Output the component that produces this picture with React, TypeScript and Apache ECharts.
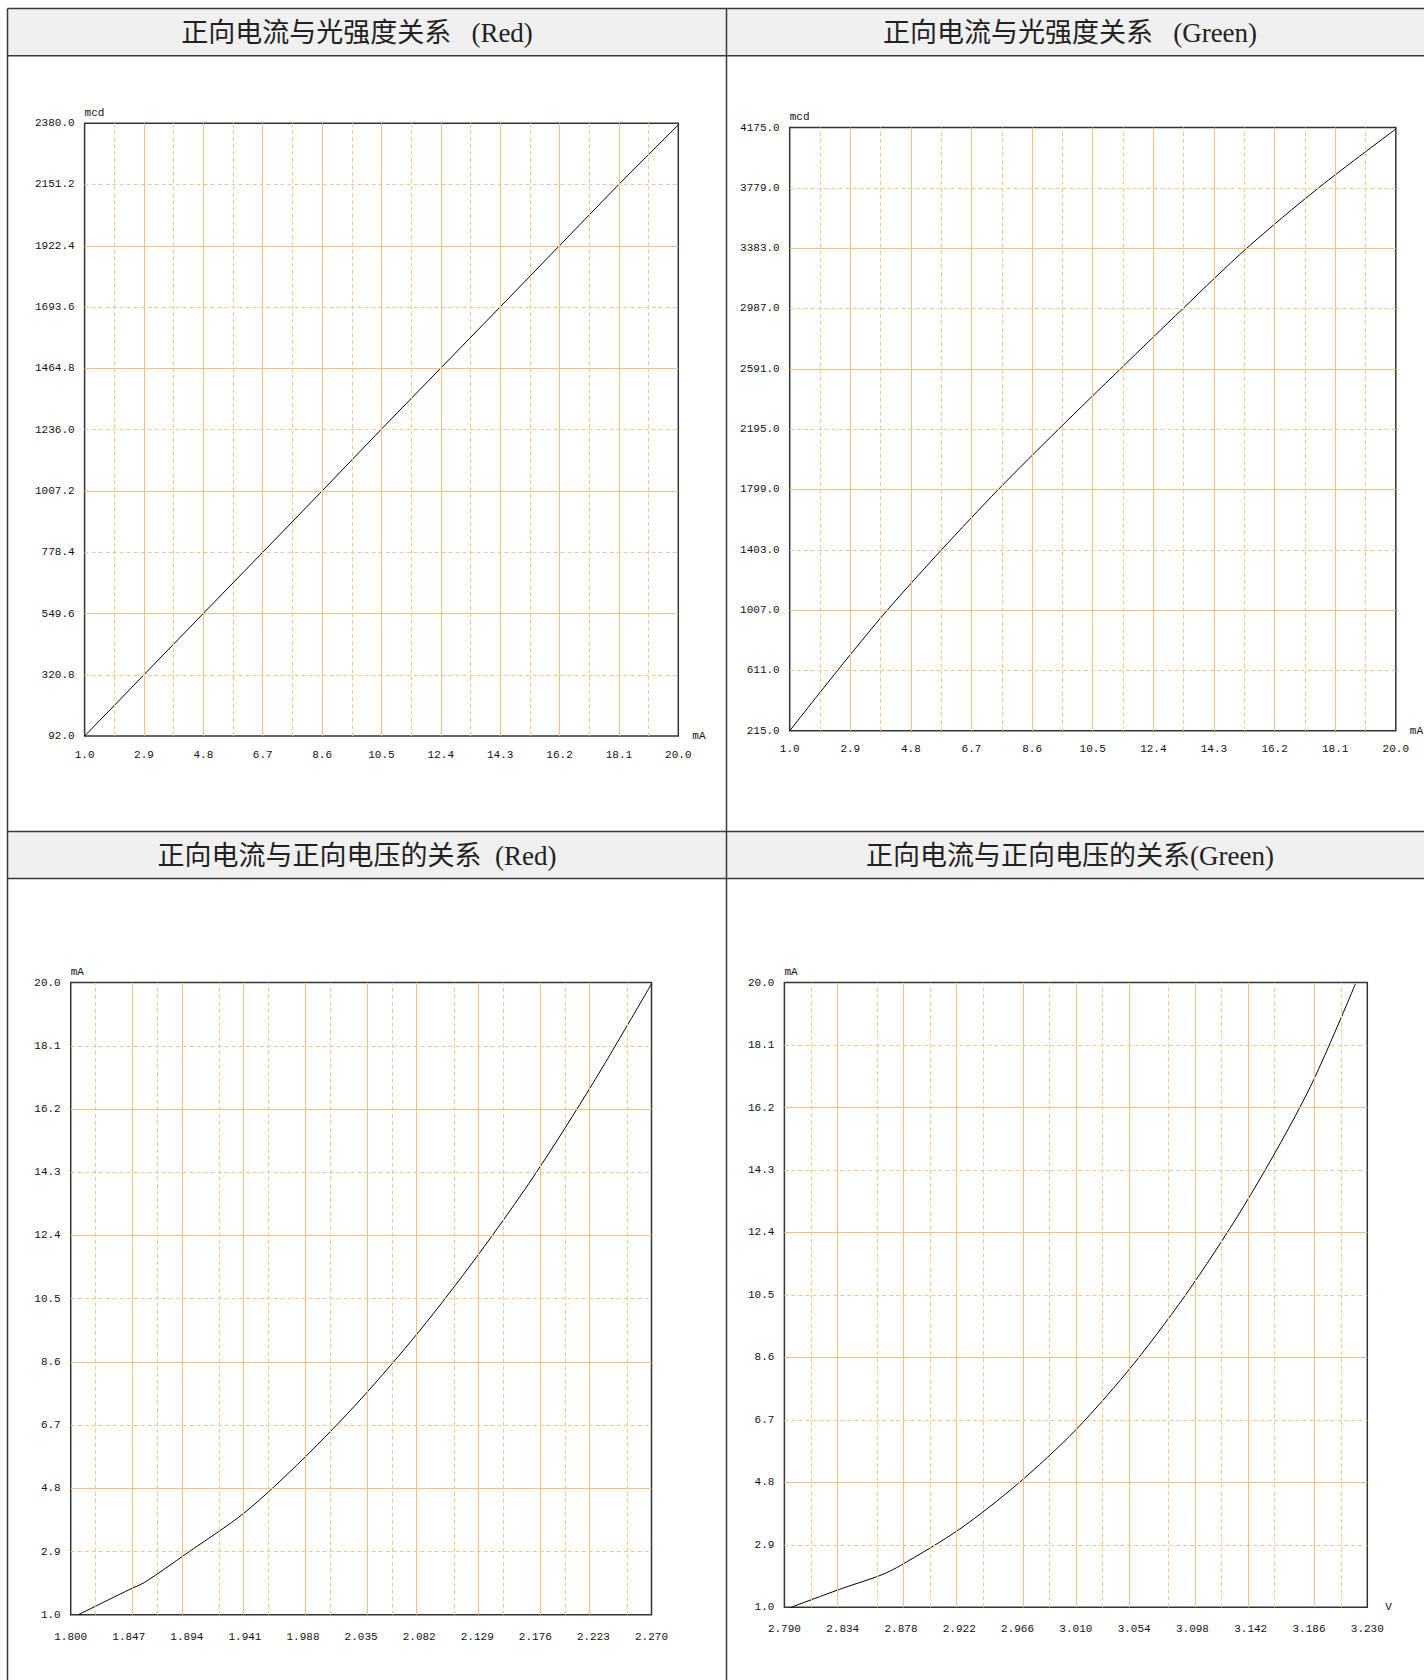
import React, { useEffect, useRef } from "react";
import * as echarts from "echarts";

// ---------- Chart 1: 正向电流与光强度关系 (Red) ----------
const redIvTitle = "正向电流与光强度关系\u2002 (Red)";
const redIvCurrent = [1.0, 2.9, 4.8, 6.7, 8.6, 10.5, 12.4, 14.3, 16.2, 18.1, 20.0];
const redIvIntensity = [92, 321, 550, 778, 1007, 1238, 1466, 1694, 1923, 2152, 2374];
const redIvXTicks = [1.0, 2.9, 4.8, 6.7, 8.6, 10.5, 12.4, 14.3, 16.2, 18.1, 20.0];
const redIvYTicks = [92.0, 320.8, 549.6, 778.4, 1007.2, 1236.0, 1464.8, 1693.6, 1922.4, 2151.2, 2380.0];

// ---------- Chart 2: 正向电流与光强度关系 (Green) ----------
const greenIvTitle = "正向电流与光强度关系\u2002 (Green)";
const greenIvCurrent = [1.0, 2.5, 4.06, 5.76, 7.54, 9.43, 11.37, 13.33, 15.33, 17.58, 20.0];
const greenIvIntensity = [215, 611, 1007, 1403, 1799, 2195, 2591, 2987, 3383, 3779, 4165];
const greenIvXTicks = [1.0, 2.9, 4.8, 6.7, 8.6, 10.5, 12.4, 14.3, 16.2, 18.1, 20.0];
const greenIvYTicks = [215.0, 611.0, 1007.0, 1403.0, 1799.0, 2195.0, 2591.0, 2987.0, 3383.0, 3779.0, 4175.0];

// ---------- Chart 3: 正向电流与正向电压的关系 (Red) ----------
const redVfTitle = "正向电流与正向电压的关系\u2002(Red)";
const redVfVoltage = [1.806, 1.847, 1.860, 1.894, 1.941, 1.988, 2.035, 2.082, 2.129, 2.176, 2.223, 2.270];
const redVfCurrent = [1.0, 1.75, 1.98, 2.85, 4.08, 5.68, 7.49, 9.52, 11.78, 14.25, 17.0, 19.96];
const redVfXTicks = [1.800, 1.847, 1.894, 1.941, 1.988, 2.035, 2.082, 2.129, 2.176, 2.223, 2.270];
const redVfYTicks = [1.0, 2.9, 4.8, 6.7, 8.6, 10.5, 12.4, 14.3, 16.2, 18.1, 20.0];

// ---------- Chart 4: 正向电流与正向电压的关系(Green) ----------
const greenVfTitle = "正向电流与正向电压的关系(Green)";
const greenVfVoltage = [2.795, 2.834, 2.863, 2.878, 2.922, 2.966, 3.010, 3.054, 3.098, 3.142, 3.186, 3.221];
const greenVfCurrent = [1.0, 1.58, 1.98, 2.28, 3.37, 4.75, 6.4, 8.42, 10.8, 13.55, 16.75, 19.96];
const greenVfXTicks = [2.790, 2.834, 2.878, 2.922, 2.966, 3.010, 3.054, 3.098, 3.142, 3.186, 3.230];
const greenVfYTicks = [1.0, 2.9, 4.8, 6.7, 8.6, 10.5, 12.4, 14.3, 16.2, 18.1, 20.0];

const MONO = '"Liberation Mono", "DejaVu Sans Mono", monospace';
const TITLE_FONT = '"Liberation Serif", "Noto Sans CJK SC", serif';
const LABEL_COLOR = "#111";
const GRID_SOLID = "#f4c07a";
const GRID_DASH = "#f5c88a";
const BORDER = "#3a3a3a";

type Panel = {
  grid: { left: number; top: number; width: number; height: number };
  xs: number[];
  ys: number[];
  xTicks: number[];
  yTicks: number[];
  xDec: number;
  yDec: number;
  xName: string;
  yName: string;
  xNameGap: number;
  xLabelMargin: number;
  smooth: number | boolean;
};

const panels: Panel[] = [
  {
    grid: { left: 84.6, top: 123.2, width: 593.7, height: 612.9 },
    xs: redIvCurrent, ys: redIvIntensity, xTicks: redIvXTicks, yTicks: redIvYTicks,
    xDec: 1, yDec: 1, xName: "mA", yName: "mcd", xNameGap: 14, xLabelMargin: 13, smooth: false,
  },
  {
    grid: { left: 789.7, top: 127.5, width: 608.6, height: 603.3 },
    xs: greenIvCurrent, ys: greenIvIntensity, xTicks: greenIvXTicks, yTicks: greenIvYTicks,
    xDec: 1, yDec: 1, xName: "mA", yName: "mcd", xNameGap: 14, xLabelMargin: 13, smooth: 0.3,
  },
  {
    grid: { left: 70.7, top: 982.6, width: 580.8, height: 632.2 },
    xs: redVfVoltage, ys: redVfCurrent, xTicks: redVfXTicks, yTicks: redVfYTicks,
    xDec: 3, yDec: 1, xName: "", yName: "mA", xNameGap: 14, xLabelMargin: 17, smooth: 0.3,
  },
  {
    grid: { left: 784.4, top: 982.6, width: 582.9, height: 624.7 },
    xs: greenVfVoltage, ys: greenVfCurrent, xTicks: greenVfXTicks, yTicks: greenVfYTicks,
    xDec: 3, yDec: 1, xName: "V", yName: "mA", xNameGap: 18, xLabelMargin: 16, smooth: 0.3,
  },
];

const solidStyle = { color: GRID_SOLID, width: 1, type: "solid" as const };
const dashStyle = { color: GRID_DASH, width: 1, type: [4, 3] as any };

function gridLineData(xTicks: number[], yTicks: number[]) {
  const out: any[] = [];
  xTicks.slice(1, -1).forEach((v) => out.push({ xAxis: v, lineStyle: solidStyle }));
  for (let i = 0; i < xTicks.length - 1; i++) {
    out.push({ xAxis: (xTicks[i] + xTicks[i + 1]) / 2, lineStyle: dashStyle });
  }
  yTicks.slice(1, -1).forEach((v, i) =>
    out.push({ yAxis: v, lineStyle: (i + 1) % 2 === 0 ? solidStyle : dashStyle })
  );
  return out;
}

function buildOption() {
  const grids: any[] = [];
  const xAxes: any[] = [];
  const yAxes: any[] = [];
  const series: any[] = [];

  panels.forEach((p, i) => {
    grids.push({
      ...p.grid,
      show: true,
      borderColor: "#333",
      borderWidth: 1.5,
      backgroundColor: "transparent",
      containLabel: false,
    });
    xAxes.push({
      type: "value",
      gridIndex: i,
      min: p.xTicks[0],
      max: p.xTicks[p.xTicks.length - 1],
      axisLine: { show: false },
      axisTick: { show: false },
      splitLine: { show: false },
      axisLabel: {
        customValues: p.xTicks,
        formatter: (v: number) => v.toFixed(p.xDec),
        margin: p.xLabelMargin,
        color: LABEL_COLOR,
        fontFamily: MONO,
        fontSize: 11,
        showMinLabel: true,
        showMaxLabel: true,
        hideOverlap: false,
      },
      name: p.xName,
      nameLocation: "end",
      nameGap: p.xNameGap,
      nameTextStyle: { color: LABEL_COLOR, fontFamily: MONO, fontSize: 11, padding: [0, 0, 5, 0] },
    });
    yAxes.push({
      type: "value",
      gridIndex: i,
      min: p.yTicks[0],
      max: p.yTicks[p.yTicks.length - 1],
      axisLine: { show: false },
      axisTick: { show: false },
      splitLine: { show: false },
      axisLabel: {
        customValues: p.yTicks,
        formatter: (v: number) => v.toFixed(p.yDec),
        margin: 10,
        color: LABEL_COLOR,
        fontFamily: MONO,
        fontSize: 11,
        showMinLabel: true,
        showMaxLabel: true,
        hideOverlap: false,
      },
      name: p.yName,
      nameLocation: "end",
      nameGap: 5,
      nameTextStyle: { color: LABEL_COLOR, fontFamily: MONO, fontSize: 11, align: "left" },
    });
    series.push({
      type: "line",
      xAxisIndex: i,
      yAxisIndex: i,
      data: [[p.xTicks[0], p.yTicks[0]]],
      symbol: "none",
      lineStyle: { opacity: 0 },
      silent: true,
      z: 1,
      markLine: {
        silent: true,
        symbol: ["none", "none"],
        label: { show: false },
        emphasis: { disabled: true },
        data: gridLineData(p.xTicks, p.yTicks),
      },
    });
    series.push({
      type: "line",
      xAxisIndex: i,
      yAxisIndex: i,
      data: p.xs.map((x, k) => [x, p.ys[k]]),
      symbol: "none",
      showSymbol: false,
      smooth: p.smooth,
      lineStyle: { color: "#000", width: 1 },
      silent: true,
      z: 3,
    });
  });

  const W = 1440;
  const line = (x1: number, y1: number, x2: number, y2: number) => ({
    type: "line",
    silent: true,
    z: 10,
    shape: { x1, y1, x2, y2 },
    style: { stroke: BORDER, lineWidth: 1.5 },
  });
  const titleText = (text: string, x: number, y: number) => ({
    type: "text",
    silent: true,
    z: 11,
    x,
    y,
    style: {
      text,
      fill: "#222",
      fontSize: 27,
      fontFamily: TITLE_FONT,
      textAlign: "center",
      textVerticalAlign: "middle",
    },
  });

  const graphic: any[] = [
    { type: "rect", silent: true, z: 5, shape: { x: 7.5, y: 8.6, width: W, height: 47.1 }, style: { fill: "#f0f0f0" } },
    { type: "rect", silent: true, z: 5, shape: { x: 7.5, y: 831.5, width: W, height: 47.1 }, style: { fill: "#f0f0f0" } },
    line(7.5, 8.6, W, 8.6),
    line(7.5, 55.7, W, 55.7),
    line(7.5, 831.5, W, 831.5),
    line(7.5, 878.6, W, 878.6),
    line(7.5, 8.6, 7.5, 1700),
    line(726.5, 8.6, 726.5, 1700),
    titleText(redIvTitle, 357, 32.5),
    titleText(greenIvTitle, 1070, 32.5),
    titleText(redVfTitle, 357, 855.5),
    titleText(greenVfTitle, 1070, 855.5),
  ];

  return {
    animation: false,
    backgroundColor: "#ffffff",
    grid: grids,
    xAxis: xAxes,
    yAxis: yAxes,
    series,
    graphic,
  };
}

export default function App() {
  const ref = useRef<HTMLDivElement>(null);
  useEffect(() => {
    if (!ref.current) return;
    const chart = echarts.init(ref.current, undefined, { renderer: "svg" });
    chart.setOption(buildOption() as any);
    return () => chart.dispose();
  }, []);
  return (
    <div
      ref={ref}
      style={{ position: "absolute", left: 0, top: 0, width: 1424, height: 1680, overflow: "hidden" }}
    />
  );
}
